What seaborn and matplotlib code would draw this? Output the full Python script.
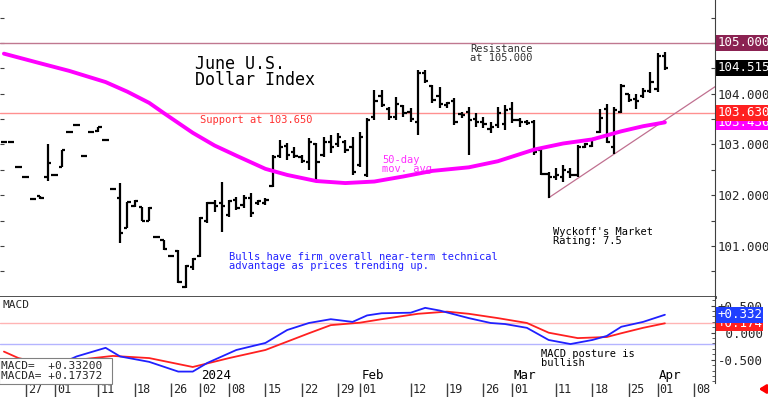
import numpy as np
import pandas as pd
import matplotlib
matplotlib.use('Agg')
import matplotlib.pyplot as plt
import matplotlib.transforms as mtransforms
import seaborn as sns

# trading calendar for the June contract (exchange holidays dropped)
holidays = ['2023-12-25', '2024-01-01', '2024-03-29']
dates = pd.bdate_range('2023-11-22', '2024-04-12', freq='C', holidays=holidays)

# daily bars, Nov 22 2023 .. Apr 2 2024
highs = [103.06, 103.06, 102.57, 102.37, 101.94, 101.99, 103.01, 102.41, 102.89, 103.26,
         103.39, 102.78, 103.26, 103.35, 103.10, 102.13, 102.24, 101.87, 101.90, 101.77,
         101.77, 101.19, 101.12, 100.81, 100.92, 100.63, 100.76, 101.57, 101.87, 101.91,
         102.26, 101.91, 101.97, 102.00, 102.04, 101.91, 101.95, 102.79, 103.09, 103.03,
         102.95, 102.79, 103.13, 103.03, 103.15, 103.19, 103.23, 103.09, 103.15, 103.25,
         103.52, 104.07, 104.07, 103.74, 103.94, 103.78, 103.72, 104.47, 104.47, 104.17,
         104.13, 103.84, 103.92, 103.64, 103.74, 103.62, 103.54, 103.44, 103.74, 103.78,
         103.84, 103.52, 103.48, 103.48, 102.93, 102.46, 102.54, 102.60, 102.54, 102.99,
         103.03, 103.13, 103.70, 103.80, 103.74, 104.19, 104.00, 104.00, 104.11, 104.43,
         104.80, 104.82]
lows = [103.04, 103.04, 102.55, 102.35, 101.92, 101.93, 102.28, 102.39, 102.56, 103.24,
        103.37, 102.76, 103.24, 103.25, 103.08, 102.11, 101.06, 101.35, 101.77, 101.49,
        101.49, 101.17, 100.92, 100.79, 100.27, 100.17, 100.53, 100.78, 101.45, 101.67,
        101.28, 101.57, 101.71, 101.75, 101.57, 101.81, 101.81, 102.16, 102.73, 102.69,
        102.73, 102.64, 102.50, 102.30, 102.75, 102.83, 102.95, 102.83, 102.40, 102.56,
        102.36, 103.48, 103.74, 103.48, 103.48, 103.54, 103.44, 103.19, 104.21, 103.82,
        103.72, 103.72, 103.38, 103.52, 102.79, 103.34, 103.32, 103.23, 103.32, 103.29,
        103.42, 103.34, 103.38, 102.79, 102.40, 101.95, 102.30, 102.26, 102.34, 102.36,
        102.93, 102.95, 103.23, 103.03, 102.81, 103.62, 103.84, 103.70, 103.92, 104.01,
        104.03, 104.47]
opens = [103.05, 103.05, 102.56, 102.36, 101.93, 101.98, 102.35, 102.40, 102.56, 103.25,
         103.38, 102.77, 103.25, 103.26, 103.09, 102.12, 101.95, 101.36, 101.78, 101.76,
         101.50, 101.18, 101.12, 100.80, 100.90, 100.20, 100.58, 100.80, 101.50, 101.85,
         101.85, 101.62, 101.90, 101.80, 101.95, 101.84, 101.85, 102.18, 102.78, 102.98,
         102.85, 102.75, 102.65, 103.00, 102.80, 103.05, 103.00, 103.05, 102.95, 102.60,
         102.40, 103.55, 103.95, 103.70, 103.55, 103.75, 103.65, 103.45, 104.40, 104.15,
         103.95, 103.78, 103.85, 103.60, 103.65, 103.50, 103.45, 103.30, 103.38, 103.40,
         103.70, 103.48, 103.45, 103.45, 102.90, 102.42, 102.35, 102.35, 102.45, 102.40,
         102.95, 102.98, 103.25, 103.70, 102.95, 103.65, 104.00, 103.90, 103.95, 104.05,
         104.10, 104.75]
closes = [103.05, 103.05, 102.56, 102.36, 101.93, 101.94, 102.64, 102.40, 102.89, 103.25,
          103.38, 102.77, 103.25, 103.34, 103.09, 102.12, 101.26, 101.86, 101.88, 101.50,
          101.75, 101.18, 100.95, 100.80, 100.30, 100.60, 100.74, 101.55, 101.85, 101.78,
          101.78, 101.88, 101.75, 101.95, 101.65, 101.88, 101.90, 102.75, 102.95, 102.80,
          102.78, 102.68, 103.05, 102.65, 103.05, 102.95, 103.15, 102.90, 102.45, 103.15,
          103.48, 103.85, 103.78, 103.55, 103.80, 103.62, 103.50, 104.40, 104.25, 103.88,
          103.80, 103.82, 103.45, 103.58, 103.48, 103.45, 103.40, 103.35, 103.62, 103.68,
          103.48, 103.45, 103.42, 102.85, 102.42, 102.35, 102.40, 102.50, 102.40, 102.95,
          103.00, 103.10, 103.52, 103.05, 103.68, 104.15, 103.88, 103.85, 104.05, 104.24,
          104.75, 104.515]

# 50-day moving average, read at sample days
ma_dates = ['2023-11-22', '2023-11-29', '2023-12-05', '2023-12-12', '2023-12-15', '2023-12-20',
            '2023-12-22', '2023-12-29', '2024-01-04', '2024-01-09', '2024-01-15', '2024-01-18',
            '2024-01-24', '2024-01-30', '2024-02-05', '2024-02-09', '2024-02-15', '2024-02-22',
            '2024-02-28', '2024-03-06', '2024-03-12', '2024-03-18', '2024-03-22', '2024-03-27',
            '2024-04-02']
ma_vals = [104.79, 104.60, 104.45, 104.23, 104.04, 103.82, 103.62, 103.23, 102.98, 102.78,
           102.52, 102.40, 102.28, 102.24, 102.27, 102.37, 102.48, 102.55, 102.67, 102.90,
           103.02, 103.10, 103.26, 103.36, 103.436]

# MACD (blue) and signal (red)
macd_dates = ['2023-11-22', '2023-11-30', '2023-12-04', '2023-12-06', '2023-12-12', '2023-12-14',
              '2023-12-20', '2023-12-27', '2023-12-29', '2024-01-03', '2024-01-05', '2024-01-09',
              '2024-01-15', '2024-01-18', '2024-01-23', '2024-01-26', '2024-01-31', '2024-02-02',
              '2024-02-06', '2024-02-12', '2024-02-14', '2024-02-16', '2024-02-22', '2024-02-27',
              '2024-02-29', '2024-03-05', '2024-03-08', '2024-03-13', '2024-03-18', '2024-03-20',
              '2024-03-22', '2024-03-27', '2024-04-02']
macd_vals = [-0.66, -0.64, -0.56, -0.44, -0.28, -0.44, -0.54, -0.72, -0.72, -0.56, -0.44, -0.32,
             -0.19, 0.05, 0.18, 0.25, 0.20, 0.32, 0.36, 0.37, 0.46, 0.41, 0.27, 0.18, 0.16,
             0.09, -0.135, -0.21, -0.135, -0.06, 0.11, 0.20, 0.332]
sig_dates = ['2023-11-22', '2023-11-24', '2023-11-29', '2023-12-05', '2023-12-13', '2023-12-20',
             '2023-12-29', '2024-01-08', '2024-01-15', '2024-01-23', '2024-01-26', '2024-02-01',
             '2024-02-06', '2024-02-13', '2024-02-19', '2024-02-22', '2024-02-28', '2024-03-05',
             '2024-03-08', '2024-03-14', '2024-03-20', '2024-03-22', '2024-03-27', '2024-04-02']
sig_vals = [-0.35, -0.47, -0.56, -0.52, -0.43, -0.47, -0.635, -0.47, -0.32, -0.01, 0.14, 0.185,
            0.25, 0.35, 0.39, 0.35, 0.27, 0.18, 0.0, -0.10, -0.08, -0.01, 0.09, 0.174]

# weekly tick labels along the bottom
tick_dates = ['2023-11-27', '2023-12-01', '2023-12-11', '2023-12-18', '2023-12-26', '2024-01-02',
              '2024-01-08', '2024-01-15', '2024-01-22', '2024-01-29', '2024-02-01', '2024-02-12',
              '2024-02-19', '2024-02-26', '2024-03-01', '2024-03-11', '2024-03-18', '2024-03-25',
              '2024-04-01', '2024-04-08']
tick_labels = ['27', '01', '11', '18', '26', '02', '08', '15', '22', '29', '01', '12', '19', '26',
               '01', '11', '18', '25', '01', '08']
month_dates = ['2024-01-02', '2024-02-01', '2024-03-01', '2024-04-01']
month_labels = ['2024', 'Feb', 'Mar', 'Apr']

trend_dates = ['2024-03-08', '2024-03-21']
trend_vals = [101.95, 102.81]

resistance = 105.0
support = 103.63
last_price = 104.515
macd_last, sig_last = 0.332, 0.174
macd_low_line = -0.21


def pos(d_list):
    return [dates.get_loc(pd.Timestamp(d)) for d in d_list]


sns.set_style('white')
plt.rcParams['font.family'] = ['DejaVu Sans Mono']

fig = plt.figure(figsize=(7.68, 3.97), dpi=100)
ax = fig.add_axes([0, 0.2519, 0.931, 0.7481])
ax2 = fig.add_axes([0, 0.036, 0.931, 0.2159])
xlim = (-0.54, 97.9)

# ---- price panel
x = np.arange(len(highs))
ax.vlines(x, lows, highs, color='black', lw=1.6, zorder=3)
ax.hlines(opens, x - 0.45, x, color='black', lw=1.6, zorder=3)
ax.hlines(closes, x, x + 0.45, color='black', lw=1.6, zorder=3)

ma_df = pd.DataFrame({'x': pos(ma_dates), 'ma': ma_vals})
sns.lineplot(data=ma_df, x='x', y='ma', ax=ax, color='#ff00ff', lw=2.8, zorder=4)

ax.axhline(resistance, color='#c07890', lw=1)
ax.axhline(support, color='#ff9090', lw=1)
tx = pos(trend_dates)
slope = (trend_vals[1] - trend_vals[0]) / (tx[1] - tx[0])
ax.plot([tx[0], xlim[1]], [trend_vals[0], trend_vals[0] + slope * (xlim[1] - tx[0])],
        color='#c07090', lw=0.9, zorder=2)

ax.set_xlim(*xlim)
ax.set_ylim(99.995, 105.847)
ax.set_xticks([])
ax.set_xlabel('')
ax.set_ylabel('')
yt = [100.5, 101, 101.5, 102, 102.5, 103, 103.5, 104, 104.5, 105, 105.5]
ax.set_yticks(yt)
ax.set_yticklabels(['', '101.000', '', '102.000', '', '103.000', '', '104.000', '', '', ''])
ax.yaxis.set_ticks_position('both')
ax.tick_params(axis='y', direction='in', length=3, color='#404040', labelleft=False,
               labelright=True, labelsize=9, pad=2)
for s in ['top', 'left']:
    ax.spines[s].set_visible(False)
ax.spines['right'].set_color('#404040')
ax.spines['bottom'].set_color('#404040')
ax.spines['bottom'].set_linewidth(2)

ytrans = mtransforms.blended_transform_factory(ax.transAxes, ax.transData)
boxes = [(resistance, '105.000', '#8b2252', 5), (last_price, '104.515', 'black', 5),
         (103.436, '103.436', '#ff00ff', 5), (support, '103.630', '#ff2020', 6)]
for val, lab, col, z in boxes:
    ax.text(1.003, val, lab, transform=ytrans, ha='left', va='center', color='white', fontsize=9,
            clip_on=False, zorder=z,
            bbox=dict(boxstyle='square,pad=0.12', fc=col, ec='none'))

ax.text(0.2727, 0.815, 'June U.S.\nDollar Index', transform=ax.transAxes, ha='left', va='top',
        fontsize=12, linespacing=0.85, color='black')
ax.text(0.657, 0.852, 'Resistance\nat 105.000', transform=ax.transAxes, ha='left', va='top',
        fontsize=7.5, linespacing=0.9, color='#303030')
ax.text(0.2797, 0.613, 'Support at 103.650', transform=ax.transAxes, ha='left', va='top',
        fontsize=7.5, color='#ff3030')
ax.text(0.534, 0.478, '50-day\nmov. avg.', transform=ax.transAxes, ha='left', va='top',
        fontsize=7.5, linespacing=0.9, color='#ff30ff')
ax.text(0.320, 0.1515, 'Bulls have firm overall near-term technical\nadvantage as prices trending up.',
        transform=ax.transAxes, ha='left', va='top', fontsize=7.5, linespacing=0.9, color='#2020ff')
ax.text(0.773, 0.236, "Wyckoff's Market\nRating: 7.5", transform=ax.transAxes, ha='left', va='top',
        fontsize=7.5, linespacing=0.9, color='black')

# ---- MACD panel
ax2.axhline(sig_last, color='#ffb4b4', lw=1)
ax2.axhline(macd_low_line, color='#b4b4ff', lw=1)
macd_df = pd.DataFrame({'x': pos(macd_dates), 'v': macd_vals})
sig_df = pd.DataFrame({'x': pos(sig_dates), 'v': sig_vals})
sns.lineplot(data=sig_df, x='x', y='v', ax=ax2, color='#ff2020', lw=1.3)
sns.lineplot(data=macd_df, x='x', y='v', ax=ax2, color='#2020ff', lw=1.3)

ax2.set_xlim(*xlim)
ax2.set_ylim(-0.926, 0.661)
ax2.set_xlabel('')
ax2.set_ylabel('')
ax2.set_yticks([-0.5, 0, 0.5])
ax2.set_yticklabels(['-0.500', ' 0.000', '+0.500'])
ax2.set_yticks(np.arange(-0.9, 0.7, 0.1), minor=True)
ax2.yaxis.set_ticks_position('right')
ax2.tick_params(axis='y', which='both', direction='in', length=3, color='#404040', labelsize=9, pad=2)
ax2.tick_params(axis='y', which='minor', length=2)
for s in ['top', 'left', 'bottom']:
    ax2.spines[s].set_visible(False)
ax2.spines['right'].set_color('#404040')

ax2.set_xticks(pos(tick_dates))
ax2.set_xticklabels(tick_labels, ha='left')
ax2.tick_params(axis='x', bottom=True, direction='out', length=10, width=1, color='#404040',
                pad=-10, labelsize=8.5)
offset = mtransforms.ScaledTranslation(2 / 100, 0, fig.dpi_scale_trans)
for lbl in ax2.get_xticklabels():
    lbl.set_transform(lbl.get_transform() + offset)

ytrans2 = mtransforms.blended_transform_factory(ax2.transAxes, ax2.transData)
ax2.text(1.003, sig_last, '+0.174', transform=ytrans2, ha='left', va='center', color='white',
         fontsize=9, clip_on=False, zorder=5, bbox=dict(boxstyle='square,pad=0.1', fc='#ff2020', ec='none'))
ax2.text(1.003, macd_last, '+0.332', transform=ytrans2, ha='left', va='center', color='white',
         fontsize=9, clip_on=False, zorder=6, bbox=dict(boxstyle='square,pad=0.1', fc='#2040ff', ec='none'))

xtrans2 = mtransforms.blended_transform_factory(ax2.transData, ax2.transAxes)
for d, lab in zip(pos(month_dates), month_labels):
    ax2.text(d + 0.2, 0.005, lab, transform=xtrans2, ha='left', va='bottom', fontsize=9, color='black')

ax2.text(0.003, 0.97, 'MACD', transform=ax2.transAxes, ha='left', va='top', fontsize=8)
ax2.text(0.757, 0.393, 'MACD posture is\nbullish', transform=ax2.transAxes, ha='left', va='top',
         fontsize=7.5, linespacing=0.9, color='black')
ax2.text(0.002, 0.02, 'MACD=  +0.33200 \nMACDA= +0.17372 ', transform=ax2.transAxes, ha='left',
         va='bottom', fontsize=8, linespacing=1.05, zorder=10,
         bbox=dict(boxstyle='square,pad=0.25', fc='white', ec='#808080', lw=0.8))

ax2.annotate('', xy=(756 / 768, 1 - 389 / 397), xytext=(768 / 768, 1 - 389 / 397),
             xycoords='figure fraction',
             arrowprops=dict(arrowstyle='-|>,head_width=0.25,head_length=0.4', color='red', lw=2))

fig.savefig('out.png', dpi=100)
